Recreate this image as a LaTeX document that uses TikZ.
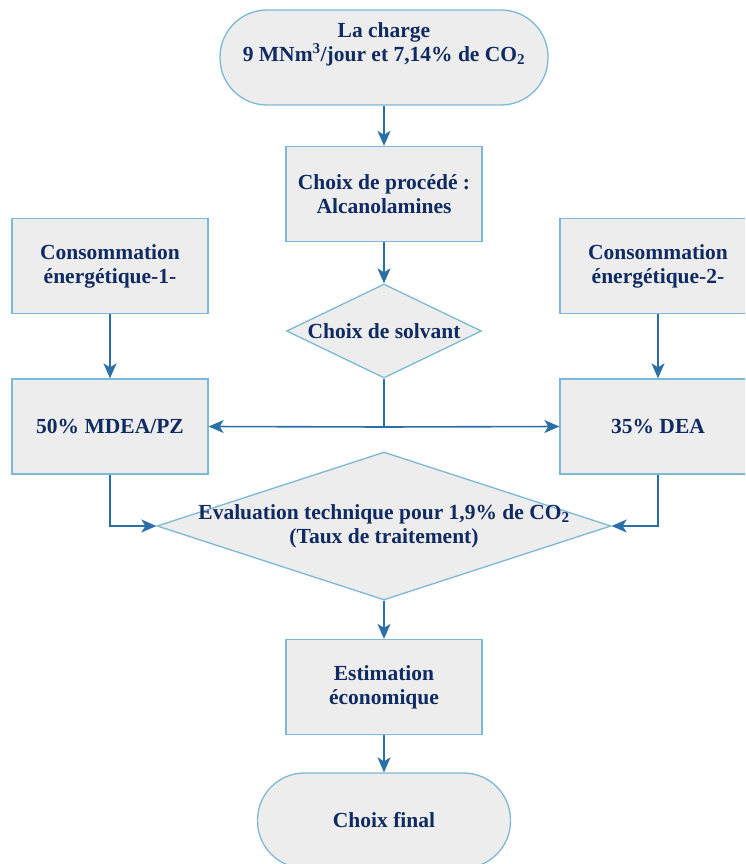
\documentclass[tikz,border=0pt]{standalone}
\usepackage{fontspec}
\setmainfont{Liberation Serif}
\usetikzlibrary{shapes.geometric,arrows.meta}

\definecolor{boxfill}{HTML}{EDEDED}
\definecolor{boxline}{HTML}{7DB8D4}
\definecolor{flow}{HTML}{2A6FA6}
\definecolor{ink}{HTML}{102A62}

\tikzset{
  txt/.style={text=ink, font=\fontsize{21.5}{24}\selectfont\bfseries, align=center},
  shapebase/.style={draw=boxline, fill=boxfill, line width=1.3pt, inner sep=0pt},
  stepbox/.style={shapebase, rectangle, minimum width=196pt, minimum height=95pt, txt},
  term/.style={shapebase, rectangle, rounded corners=47pt, minimum height=95pt, txt},
  dia/.style={shapebase, diamond},
  arr/.style={draw=flow, line width=1.6pt, -{Stealth[length=15pt,width=13pt,inset=4pt]}},
  link/.style={draw=flow, line width=1.6pt},
}

\begin{document}
\begin{tikzpicture}[x=1pt, y=-1pt]
  \useasboundingbox (0,0) rectangle (745,864);
  \clip (0,0) rectangle (745,864);

  % terminals
  \node[term, minimum width=328pt,
        label={[txt, yshift=13.5pt]center:La charge\\9 MNm\textsuperscript{3}/jour et 7,14\% de CO\textsubscript{2}}]
        (charge) at (384,57.5) {};
  \node[term, minimum width=253pt] (final) at (384,820.5) {Choix final};

  % process boxes
  \node[stepbox] (proc)  at (384,194)   {Choix de procédé :\\Alcanolamines};
  \node[stepbox] (cons1) at (110,266)   {Consommation\\énergétique-1-};
  \node[stepbox] (cons2) at (658,266)   {Consommation\\énergétique-2-};
  \node[stepbox] (mdea)  at (110,426.5) {50\% MDEA/PZ};
  \node[stepbox] (dea)   at (658,426.5) {35\% DEA};
  \node[stepbox] (estim) at (384,687)   {Estimation\\économique};

  % decisions
  \node[dia, minimum width=195pt, minimum height=94pt,
        label={[txt]center:Choix de solvant}] (solv) at (384,331) {};
  \node[dia, minimum width=454pt, minimum height=148pt,
        label={[txt]center:Evaluation technique pour 1,9\% de CO\textsubscript{2}\\(Taux de traitement)}]
        (eval) at (384,526) {};

  % connectors
  \coordinate (split) at (384,427);
  \draw[arr] (charge.south) -- (proc.north);
  \draw[arr] (proc.south) -- (solv.north);
  \draw[link] (solv.south) -- (split);
  \draw[arr] (split) -- (mdea.east);
  \draw[arr] (split) -- (dea.west);
  \draw[arr] (cons1.south) -- (mdea.north);
  \draw[arr] (cons2.south) -- (dea.north);
  \draw[arr] (mdea.south) |- (eval.west);
  \draw[arr] (dea.south) |- (eval.east);
  \draw[arr] (eval.south) -- (estim.north);
  \draw[arr] (estim.south) -- (final.north);
\end{tikzpicture}
\end{document}
